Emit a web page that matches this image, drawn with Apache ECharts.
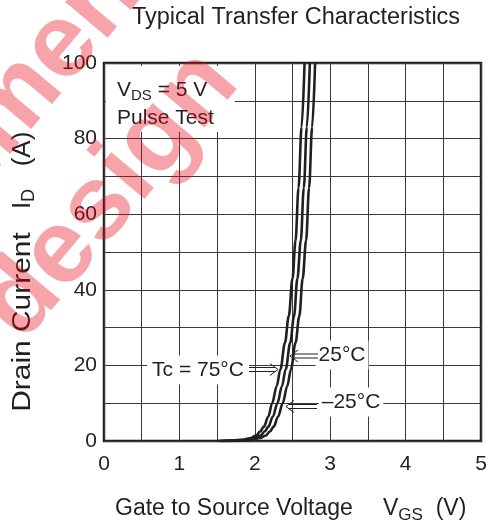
<!DOCTYPE html>
<html>
<head>
<meta charset="utf-8">
<script src="https://cdn.jsdelivr.net/npm/echarts@6/dist/echarts.min.js"></script>
<style>
html,body{margin:0;padding:0;background:#fff;}
#c{width:494px;height:528px;}
</style>
</head>
<body>
<div id="c"></div>
<script>
// ---- data ----
const titleText = 'Typical Transfer Characteristics';
const xTickLabels = ['0', '1', '2', '3', '4', '5'];
const yTickLabels = ['0', '20', '40', '60', '80', '100'];
const seriesNames = ['Tc = 75°C', '25°C', '–25°C'];
const watermarkLines = ['Not recommended', 'for new design'];

const vgs75 = [1.50, 1.70, 1.85, 1.95, 2.02, 2.07, 2.12, 2.18, 2.23, 2.29, 2.34, 2.40, 2.45, 2.50, 2.54, 2.58, 2.62, 2.66];
const id75  = [0, 0.1, 0.35, 0.8, 1.5, 2.5, 3.8, 6.5, 10, 14.5, 19, 26, 33, 43, 53, 67, 83, 100];

const vgs25 = [1.55, 1.75, 1.90, 2.00, 2.07, 2.13, 2.18, 2.24, 2.30, 2.36, 2.41, 2.47, 2.52, 2.565, 2.61, 2.65, 2.69, 2.73];
const id25  = [0, 0.1, 0.35, 0.8, 1.4, 2.5, 3.8, 6.5, 10, 14.5, 19, 26, 33, 43, 53, 67, 83, 100];

const vgsM25 = [1.60, 1.80, 1.97, 2.07, 2.14, 2.20, 2.25, 2.31, 2.37, 2.43, 2.48, 2.54, 2.59, 2.635, 2.68, 2.72, 2.76, 2.80];
const idM25  = [0, 0.1, 0.35, 0.8, 1.4, 2.5, 3.8, 6.5, 10, 14.5, 19, 26, 33, 43, 53, 67, 83, 100];

// ---- chart ----
const ink = '#231f20';
const font = '"Liberation Sans", Arial, sans-serif';
const zip = (xs, ys) => xs.map((x, i) => [x, ys[i]]);

const chart = echarts.init(document.getElementById('c'), null, {renderer: 'canvas'});

function lineSeries(name, xs, ys) {
  return {
    name: name, type: 'line', data: zip(xs, ys),
    showSymbol: false, symbol: 'none', smooth: 0.35, smoothMonotone: 'x',
    lineStyle: {color: ink, width: 2.6}, z: 5, silent: true
  };
}

function arrowShape(tipX, tipY, dir, len) {
  const g = 2;
  const elems = [];
  const startX = tipX - dir * len;
  const endX = tipX - dir * 3;
  elems.push({type: 'line', shape: {x1: startX, y1: tipY - g, x2: endX, y2: tipY - g}, style: {stroke: ink, lineWidth: 1}, z: 20});
  elems.push({type: 'line', shape: {x1: startX, y1: tipY + g, x2: endX, y2: tipY + g}, style: {stroke: ink, lineWidth: 1}, z: 20});
  elems.push({type: 'polyline', shape: {points: [[tipX - dir * 8, tipY - 6], [tipX, tipY], [tipX - dir * 8, tipY + 6]]}, style: {stroke: ink, lineWidth: 1, fill: null}, z: 20});
  return elems;
}

// watermark: whole line of text, positioned so that one chosen letter is centred at (ax, ay)
const wmColor = 'rgba(230, 0, 18, 0.36)';
const wmSize = 105;
const wmFont = 'bold ' + wmSize + 'px "Liberation Sans", Arial, sans-serif';
const wmAngle = 50 * Math.PI / 180;
const measureCtx = document.createElement('canvas').getContext('2d');
measureCtx.font = wmFont;
function watermarkLine(str, anchorIdx, ax, ay) {
  const dx = Math.cos(wmAngle), dy = -Math.sin(wmAngle);
  const off = measureCtx.measureText(str.slice(0, anchorIdx)).width + measureCtx.measureText(str[anchorIdx]).width / 2;
  return {type: 'text', x: ax - off * dx, y: ay - off * dy, rotation: wmAngle, z: 100, silent: true,
    style: {text: str, font: wmFont, fill: wmColor, align: 'left', verticalAlign: 'middle'}};
}

const option = {
  animation: false,
  backgroundColor: '#fff',
  grid: {left: 104, right: 13, top: 63, bottom: 87, show: true, borderColor: ink, borderWidth: 2.5, containLabel: false},
  xAxis: {
    type: 'value', min: 0, max: 5, interval: 0.5,
    axisLine: {show: false}, axisTick: {show: false},
    splitLine: {show: true, lineStyle: {color: '#3a3a3a', width: 1}},
    axisLabel: {
      color: ink, fontSize: 21, fontFamily: font, margin: 13,
      formatter: v => { const i = xTickLabels.indexOf(String(v)); return i >= 0 ? xTickLabels[i] : ''; }
    }
  },
  yAxis: {
    type: 'value', min: 0, max: 100, interval: 10,
    axisLine: {show: false}, axisTick: {show: false},
    splitLine: {show: true, lineStyle: {color: '#3a3a3a', width: 1}},
    axisLabel: {
      color: ink, fontSize: 21, fontFamily: font, margin: 7,
      formatter: v => { const i = yTickLabels.indexOf(String(v)); return i >= 0 ? yTickLabels[i] : ''; }
    }
  },
  series: [
    lineSeries(seriesNames[0], vgs75, id75),
    lineSeries(seriesNames[1], vgs25, id25),
    lineSeries(seriesNames[2], vgsM25, idM25)
  ],
  graphic: [
    {type: 'text', x: 296, y: 18, z: 10, style: {text: titleText, font: '23.5px ' + font, fill: ink, align: 'center', verticalAlign: 'middle'}},
    {type: 'text', x: 115, y: 509, z: 10, style: {text: 'Gate to Source Voltage', font: '23px ' + font, fill: ink, align: 'left', verticalAlign: 'middle'}},
    {type: 'text', x: 383, y: 509, z: 10, style: {
      text: '{a|V}{s|GS}{a|  (V)}', align: 'left', verticalAlign: 'middle',
      rich: {a: {fontSize: 23, fontFamily: font, fill: ink, lineHeight: 28}, s: {fontSize: 17, fontFamily: font, fill: ink, lineHeight: 17, padding: [12, 0, 0, 0]}}
    }},
    {type: 'text', x: 23, y: 322, rotation: Math.PI / 2, scaleX: 1.15, z: 10, style: {text: 'Drain Current', font: '26px ' + font, fill: ink, align: 'center', verticalAlign: 'middle'}},
    {type: 'text', x: 23, y: 199, rotation: Math.PI / 2, z: 10, style: {
      text: '{a|I}{s|D}', align: 'center', verticalAlign: 'middle',
      rich: {a: {fontSize: 26, fontFamily: font, fill: ink, lineHeight: 30}, s: {fontSize: 18, fontFamily: font, fill: ink, lineHeight: 18, padding: [12, 0, 0, 0]}}
    }},
    {type: 'text', x: 23, y: 149, rotation: Math.PI / 2, z: 10, style: {text: '(A)', font: '26px ' + font, fill: ink, align: 'center', verticalAlign: 'middle'}},
    {type: 'text', x: 106, y: 66, z: 8, style: {
      text: '{a|V}{s|DS}{a| = 5 V}\n{a|Pulse Test}', align: 'left', verticalAlign: 'top',
      backgroundColor: '#fff', padding: [10, 21, 0, 11],
      rich: {a: {fontSize: 21, fontFamily: font, fill: ink, lineHeight: 28}, s: {fontSize: 15, fontFamily: font, fill: ink, lineHeight: 15, padding: [12, 0, 0, 0]}}
    }},
    {type: 'text', x: 198, y: 370, z: 8, style: {text: seriesNames[0], font: '21px ' + font, fill: ink, align: 'center', verticalAlign: 'middle', backgroundColor: '#fff', padding: [4, 5, 4, 5]}},
    {type: 'text', x: 342, y: 355, z: 8, style: {text: seriesNames[1], font: '21px ' + font, fill: ink, align: 'center', verticalAlign: 'middle', backgroundColor: '#fff', padding: [4, 3, 4, 3]}},
    {type: 'text', x: 351, y: 402, z: 8, style: {text: seriesNames[2], font: '21px ' + font, fill: ink, align: 'center', verticalAlign: 'middle', backgroundColor: '#fff', padding: [4, 3, 4, 3]}},
    ...arrowShape(278, 369.5, 1, 29),
    ...arrowShape(290, 356, -1, 28),
    ...arrowShape(286, 406.5, -1, 31),
    watermarkLine(watermarkLines[0], 10, 62, 47),
    watermarkLine(watermarkLines[1], 8, 22, 300)
  ]
};
chart.setOption(option);
</script>
</body>
</html>
